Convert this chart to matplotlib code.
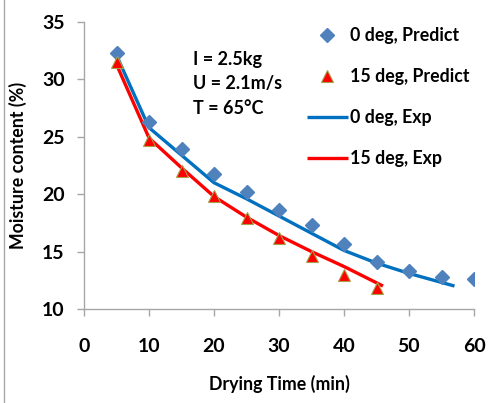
import matplotlib
matplotlib.use("Agg")
import matplotlib.pyplot as plt
from matplotlib.lines import Line2D

# Drying time (min)
t_pred = [5, 10, 15, 20, 25, 30, 35, 40, 45, 50, 55, 60]
mc_0deg_pred = [32.3, 26.3, 23.9, 21.8, 20.2, 18.6, 17.3, 15.7, 14.1, 13.3, 12.8, 12.6]

t_pred15 = [5, 10, 15, 20, 25, 30, 35, 40, 45]
mc_15deg_pred = [31.5, 24.7, 22.0, 19.8, 17.9, 16.2, 14.6, 13.0, 11.8]

t_exp0 = [5, 10, 15, 20, 25, 30, 35, 40, 45, 50, 57]
mc_0deg_exp = [32.1, 25.8, 23.4, 21.0, 19.6, 18.1, 16.6, 15.1, 14.0, 13.1, 12.0]

t_exp15 = [5, 10, 15, 20, 25, 30, 35, 40, 46]
mc_15deg_exp = [31.3, 24.9, 22.3, 19.8, 18.0, 16.4, 15.0, 13.7, 12.0]

x_ticks = [0, 10, 20, 30, 40, 50, 60]
y_ticks = [10, 15, 20, 25, 30, 35]
conditions = ["I = 2.5kg", "U = 2.1m/s", "T = 65°C"]

plt.rcParams["font.family"] = ["Lato", "DejaVu Sans"]
plt.rcParams["font.weight"] = "bold"

fig = plt.figure(figsize=(4.91, 4.03), dpi=100)
ax = fig.add_axes([84 / 491, 1 - 309 / 403, 390 / 491, 287 / 403])

blue_pt = "#4F81BD"
blue_ln = "#0070C0"
red = "#FF0000"

l1, = ax.plot(t_exp0, mc_0deg_exp, color=blue_ln, lw=2.4, solid_capstyle="butt")
l2, = ax.plot(t_exp15, mc_15deg_exp, color=red, lw=2.4, solid_capstyle="butt")
m1, = ax.plot(t_pred, mc_0deg_pred, ls="none", marker="D", ms=7.5,
              color=blue_pt, mec=blue_pt)
m2, = ax.plot(t_pred15, mc_15deg_pred, ls="none", marker="^", ms=9,
              color=red, mec="#A5A04A", mew=0.8)

ax.set_xlim(0, 60)
ax.set_ylim(10, 35)
ax.set_xticks(x_ticks)
ax.set_yticks(y_ticks)
for s in ["top", "right"]:
    ax.spines[s].set_visible(False)
for s in ["left", "bottom"]:
    ax.spines[s].set_color("#A6A6A6")
    ax.spines[s].set_linewidth(1.0)
ax.tick_params(axis="both", colors="#A6A6A6", length=5, width=1.0,
               labelcolor="black", labelsize=14)
ax.tick_params(axis="x", pad=16)
ax.tick_params(axis="y", pad=9)
for lab in ax.get_xticklabels() + ax.get_yticklabels():
    lab.set_fontweight("bold")

ax.set_xlabel("Drying Time (min)", fontsize=12.8, fontweight="bold", labelpad=14)
ax.set_ylabel("Moisture content (%)", fontsize=12.8, fontweight="bold", labelpad=11)

for i, txt in enumerate(conditions):
    fig.text(193 / 491, 1 - (59 + 24.5 * i) / 403, txt, fontsize=13,
             fontweight="bold", ha="left", va="center")

leg = fig.legend([m1, m2, l1, l2],
                 ["0 deg, Predict", "15 deg, Predict", "0 deg, Exp", "15 deg, Exp"],
                 loc="upper left", bbox_to_anchor=(307 / 491, 1 - 27 / 403),
                 frameon=False, fontsize=12.8, labelspacing=1.35,
                 handlelength=2.3, handletextpad=0.1, borderpad=0, borderaxespad=0)
for t in leg.get_texts():
    t.set_fontweight("bold")

# thin frame line on the left edge of the figure
fig.add_artist(Line2D([4 / 491, 4 / 491], [0, 1], transform=fig.transFigure,
                      color="#A6A6A6", lw=1.0))

fig.savefig("out.png", dpi=100)
